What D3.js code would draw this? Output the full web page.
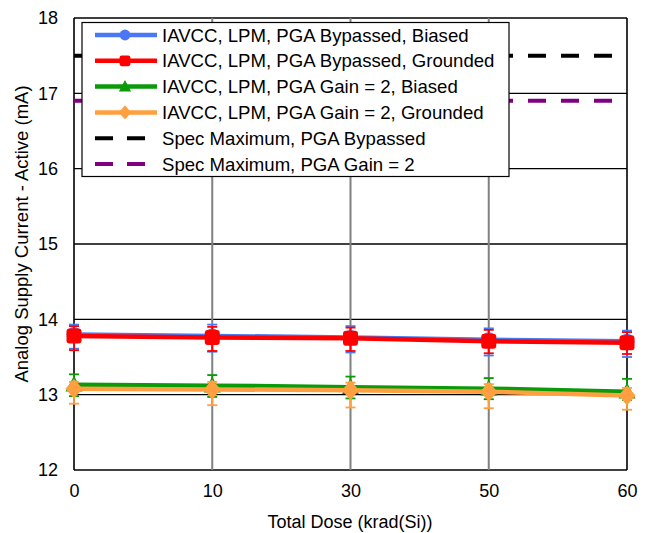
<!DOCTYPE html>
<html><head><meta charset="utf-8">
<script src="https://cdn.jsdelivr.net/npm/d3@7"></script>
<style>body{margin:0;background:#fff;}svg{display:block;font-family:"Liberation Sans",Arial,sans-serif;}</style>
</head><body>
<svg id="chart" width="652" height="533"></svg>
<script>
const categories = ["0", "10", "30", "50", "60"];
const yTicks = [12, 13, 14, 15, 16, 17, 18];

const seriesNames = [
  "IAVCC, LPM, PGA Bypassed, Biased",
  "IAVCC, LPM, PGA Bypassed, Grounded",
  "IAVCC, LPM, PGA Gain = 2, Biased",
  "IAVCC, LPM, PGA Gain = 2, Grounded"
];
const bypassedBiased   = [13.80, 13.78, 13.76, 13.73, 13.71];
const bypassedBiasedHi = [13.93, 13.93, 13.91, 13.88, 13.85];
const bypassedBiasedLo = [13.61, 13.57, 13.56, 13.52, 13.50];
const bypassedGrounded   = [13.78, 13.76, 13.75, 13.71, 13.69];
const bypassedGroundedHi = [13.91, 13.90, 13.89, 13.86, 13.83];
const bypassedGroundedLo = [13.59, 13.58, 13.58, 13.55, 13.54];
const gain2Biased   = [13.13, 13.12, 13.10, 13.08, 13.04];
const gain2BiasedHi = [13.27, 13.26, 13.24, 13.22, 13.21];
const gain2BiasedLo = [12.98, 12.97, 12.95, 12.94, 12.93];
const gain2Grounded   = [13.08, 13.07, 13.06, 13.04, 12.99];
const gain2GroundedHi = [13.17, 13.17, 13.16, 13.14, 13.09];
const gain2GroundedLo = [12.88, 12.86, 12.83, 12.82, 12.80];

const specNames = ["Spec Maximum, PGA Bypassed", "Spec Maximum, PGA Gain = 2"];
const specValues = [17.5, 16.9];

const colors = ["#4A78F5", "#FF0000", "#0A9A0A", "#FF9F3F"];
const specColors = ["#000000", "#800080"];
const symbols = ["circle", "square", "triangle", "diamond"];

const series = [
  {name: seriesNames[0], v: bypassedBiased, hi: bypassedBiasedHi, lo: bypassedBiasedLo},
  {name: seriesNames[1], v: bypassedGrounded, hi: bypassedGroundedHi, lo: bypassedGroundedLo},
  {name: seriesNames[2], v: gain2Biased, hi: gain2BiasedHi, lo: gain2BiasedLo},
  {name: seriesNames[3], v: gain2Grounded, hi: gain2GroundedHi, lo: gain2GroundedLo}
];

const svg = d3.select("#chart");
const L = 74, R = 627, T = 18, B = 470;
const x = d3.scalePoint().domain(categories).range([L, R]);
const y = d3.scaleLinear().domain([12, 18]).range([B, T]);
const FONT = "Liberation Sans, Arial, sans-serif";

// horizontal gridlines
svg.append("g").selectAll("line").data(yTicks).join("line")
  .attr("x1", L).attr("x2", R).attr("y1", d => y(d)).attr("y2", d => y(d))
  .attr("stroke", "#000").attr("stroke-width", 1.3);
// vertical gridlines
svg.append("g").selectAll("line").data(categories.slice(1, -1)).join("line")
  .attr("x1", d => x(d)).attr("x2", d => x(d)).attr("y1", T).attr("y2", B)
  .attr("stroke", "#808080").attr("stroke-width", 2);
// frame left/right
svg.append("line").attr("x1", L).attr("x2", L).attr("y1", T).attr("y2", B).attr("stroke", "#000").attr("stroke-width", 1.6);
svg.append("line").attr("x1", R).attr("x2", R).attr("y1", T).attr("y2", B).attr("stroke", "#000").attr("stroke-width", 1.6);

// axes labels
const yAxis = d3.axisLeft(y).tickValues(yTicks).tickSize(0).tickPadding(16).tickFormat(d3.format("d"));
const gy = svg.append("g").attr("transform", `translate(${L},0)`).call(yAxis);
gy.select(".domain").remove();
gy.selectAll("text").attr("font-size", 18).attr("fill", "#000").attr("font-family", FONT);
const xAxis = d3.axisBottom(x).tickSize(0).tickPadding(14);
const gx = svg.append("g").attr("transform", `translate(0,${B})`).call(xAxis);
gx.select(".domain").remove();
gx.selectAll("text").attr("font-size", 18).attr("fill", "#000").attr("font-family", FONT);

svg.append("text").attr("x", 350).attr("y", 528).attr("text-anchor", "middle")
  .attr("font-size", 18).text("Total Dose (krad(Si))");
svg.append("text").attr("transform", `translate(28,234) rotate(-90)`).attr("text-anchor", "middle")
  .attr("font-size", 18.5).text("Analog Supply Current - Active (mA)");

// spec lines
specValues.forEach((v, i) => {
  svg.append("line").attr("x1", L).attr("x2", R).attr("y1", y(v)).attr("y2", y(v))
    .attr("stroke", specColors[i]).attr("stroke-width", 4)
    .attr("stroke-dasharray", "18,15").attr("stroke-dashoffset", 8);
});

function drawMarker(g, type, color, cx, cy, scale) {
  if (type === "square") {
    const w = 15 * scale;
    g.append("rect").attr("x", cx - w / 2).attr("y", cy - w / 2).attr("width", w).attr("height", w)
      .attr("rx", 3 * scale).attr("fill", color);
  } else if (type === "diamond") {
    const w = 8.5 * scale, h = 10 * scale;
    g.append("path").attr("d", `M${cx},${cy - h}L${cx + w},${cy}L${cx},${cy + h}L${cx - w},${cy}Z`).attr("fill", color);
  } else if (type === "triangle") {
    const w = 8.5 * scale, h = 9 * scale;
    g.append("path").attr("d", `M${cx},${cy - h}L${cx + w},${cy + h * 0.75}L${cx - w},${cy + h * 0.75}Z`).attr("fill", color);
  } else {
    g.append("circle").attr("cx", cx).attr("cy", cy).attr("r", 7.5 * scale).attr("fill", color);
  }
}

const line = d3.line().x((d, i) => x(categories[i])).y(d => y(d));
series.forEach((s, si) => {
  const g = svg.append("g");
  g.append("path").datum(s.v).attr("d", line).attr("fill", "none")
    .attr("stroke", colors[si]).attr("stroke-width", 4.5);
  categories.forEach((c, i) => {
    const cx = x(c);
    g.append("line").attr("x1", cx).attr("x2", cx).attr("y1", y(s.hi[i])).attr("y2", y(s.lo[i]))
      .attr("stroke", colors[si]).attr("stroke-width", 1.8);
    [s.hi[i], s.lo[i]].forEach(v => {
      g.append("line").attr("x1", cx - 5).attr("x2", cx + 5).attr("y1", y(v)).attr("y2", y(v))
        .attr("stroke", colors[si]).attr("stroke-width", 1.8);
    });
    drawMarker(g, symbols[si], colors[si], cx, y(s.v[i]), 1);
  });
});

// legend
const lg = svg.append("g");
lg.append("rect").attr("x", 82).attr("y", 22.5).attr("width", 427).attr("height", 154)
  .attr("fill", "#fff").attr("stroke", "#000").attr("stroke-width", 1.2);
const rowY = i => 35 + i * 25.8;
series.forEach((s, i) => {
  const yy = rowY(i);
  lg.append("line").attr("x1", 95).attr("x2", 157).attr("y1", yy).attr("y2", yy)
    .attr("stroke", colors[i]).attr("stroke-width", 4.5);
  drawMarker(lg, symbols[i], colors[i], 125, yy, 0.72);
  lg.append("text").attr("x", 162).attr("y", yy + 6.5).attr("font-size", 18.6).text(s.name);
});
specNames.forEach((n, j) => {
  const yy = rowY(4 + j);
  lg.append("line").attr("x1", 95).attr("x2", 145).attr("y1", yy).attr("y2", yy)
    .attr("stroke", specColors[j]).attr("stroke-width", 4).attr("stroke-dasharray", "18,14");
  lg.append("text").attr("x", 162).attr("y", yy + 6.5).attr("font-size", 18.6).text(n);
});
</script>
</body></html>
